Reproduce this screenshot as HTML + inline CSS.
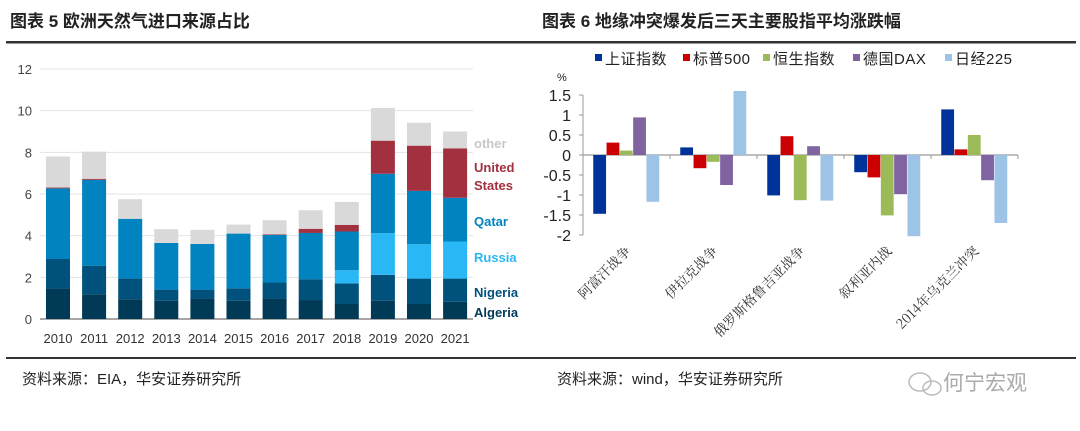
<!DOCTYPE html>
<html><head><meta charset="utf-8">
<style>
body{margin:0;background:#fff;}
#wrap{position:relative;width:1080px;height:431px;overflow:hidden;font-family:"Liberation Sans","Noto Sans CJK SC",sans-serif;}
svg{position:absolute;left:0;top:0;}
</style></head>
<body>
<div id="wrap">
<svg id="svg" width="1080" height="431" viewBox="0 0 1080 431">
  <text x="10" y="27" font-size="17" font-weight="bold" fill="#222" font-family="'Liberation Sans','Noto Sans CJK SC',sans-serif">图表 5 欧洲天然气进口来源占比</text>
  <text x="542" y="27" font-size="17" font-weight="bold" fill="#222" font-family="'Liberation Sans','Noto Sans CJK SC',sans-serif">图表 6 地缘冲突爆发后三天主要股指平均涨跌幅</text>
  <rect x="6" y="41" width="1070" height="2.5" fill="#333"/>
  <rect x="6" y="357" width="1070" height="2" fill="#333"/>
  <text x="22" y="384" font-size="15" fill="#222" font-family="'Liberation Sans','Noto Sans CJK SC',sans-serif">资料来源：EIA，华安证券研究所</text>
  <text x="557" y="384" font-size="15" fill="#222" font-family="'Liberation Sans','Noto Sans CJK SC',sans-serif">资料来源：wind，华安证券研究所</text>
  <g>
    <ellipse cx="920" cy="382" rx="11" ry="9" fill="none" stroke="#bbb" stroke-width="1.5"/>
    <ellipse cx="932" cy="388" rx="9" ry="7" fill="none" stroke="#bbb" stroke-width="1.5"/>
    <text x="943" y="390" font-size="21" fill="#aaa" font-family="'Noto Sans CJK SC',sans-serif">何宁宏观</text>
  </g>
  <g id="left"></g>
  <g id="right"></g>
</svg>
</div>
<script>
// ---- Left chart data ----
const years = ["2010","2011","2012","2013","2014","2015","2016","2017","2018","2019","2020","2021"];
const algeria = [1.46,1.19,0.95,0.88,0.98,0.88,0.98,0.91,0.72,0.88,0.72,0.83];
const nigeria = [1.42,1.37,0.99,0.53,0.43,0.59,0.77,1.00,0.99,1.24,1.22,1.11];
const russia  = [0,0,0,0,0,0,0,0,0.63,2.00,1.65,1.78];
const qatar   = [3.39,4.12,2.87,2.24,2.19,2.63,2.29,2.22,1.86,2.85,2.56,2.10];
const usa     = [0.04,0.05,0,0,0,0,0.03,0.20,0.32,1.59,2.17,2.37];
const other   = [1.49,1.30,0.94,0.66,0.68,0.43,0.67,0.89,1.10,1.57,1.10,0.81];
const leftTicks = [0,2,4,6,8,10,12];
const seriesNames = ["Algeria","Nigeria","Russia","Qatar","United States","other"];

// ---- Right chart data ----
const events = ["阿富汗战争","伊拉克战争","俄罗斯格鲁吉亚战争","叙利亚内战","2014年乌克兰冲突"];
const shIndex = [-1.47,0.19,-1.01,-0.43,1.14];
const sp500   = [0.31,-0.33,0.47,-0.56,0.14];
const hsIndex = [0.11,-0.17,-1.13,-1.51,0.50];
const dax     = [0.94,-0.75,0.22,-0.98,-0.63];
const nikkei  = [-1.17,1.60,-1.14,-2.03,-1.70];
const rightTicks = [1.5,1,0.5,0,-0.5,-1,-1.5,-2];
const rightTickLabels = ["1.5","1","0.5","0","-0.5","-1","-1.5","-2"];
const indexNames = ["上证指数","标普500","恒生指数","德国DAX","日经225"];

const NS="http://www.w3.org/2000/svg";
function mk(tag,attrs,parent){const e=document.createElementNS(NS,tag);for(const k in attrs)e.setAttribute(k,attrs[k]);parent.appendChild(e);return e;}

// Left chart
(function(){
  const g=document.getElementById('left');
  const y0=319, y1=69, vmax=12;
  const ly=v=>y0-(v/vmax)*(y0-y1);
  const x0=40, step=36.1, first=58, bw=24;
  const lx=i=>first+i*step;
  leftTicks.forEach(t=>{
    const gl=mk('line',{x1:x0,x2:473,y1:ly(t),y2:ly(t),stroke:t===0?'#888':'#e3e3e3','stroke-width':t===0?1.5:1},g);
    
    
    const tl=mk('text',{x:32,y:ly(t)+5,'text-anchor':'end','font-size':13,fill:'#444'},g);
    tl.textContent=t;
    
    
  });
  const series=[algeria,nigeria,russia,qatar,usa,other];
  const colors=['#003a57','#00527d','#29b8f5','#0083bf','#a3303f','#d9d9d9'];
  years.forEach((yr,i)=>{
    let acc=0;
    series.forEach((s,k)=>{
      const v=s[i]; if(v<=0) return;
      const r=mk('rect',{x:lx(i)-bw/2,y:ly(acc+v),width:bw,height:ly(acc)-ly(acc+v),fill:colors[k]},g);
      
      
      acc+=v;
    });
    const t=mk('text',{x:lx(i),y:343,'text-anchor':'middle','font-size':13,fill:'#333'},g);
    t.textContent=yr;
    
    
  });
  const labs=[["other",148,'#c8c8c8'],["United",172,'#a3303f'],["States",190,'#a3303f'],["Qatar",226,'#0083bf'],["Russia",262,'#29b8f5'],["Nigeria",297,'#00527d'],["Algeria",317,'#003a57']];
  labs.forEach(l=>{
    const t=mk('text',{x:474,y:l[1],'font-size':13,'font-weight':'bold',fill:l[2],'font-family':"'Liberation Sans Narrow','Liberation Sans',sans-serif"},g);
    t.textContent=l[0];
    
    
  });
})();

// Right chart
(function(){
  const g=document.getElementById('right');
  const zero=155, unit=40;
  const ry=v=>zero-v*unit;
  const ax=583, xr=1018, gw=(xr-ax)/5, bw=13.3;
  const colors=['#003399','#cc0000','#9bbb59','#8064a2','#9dc3e6'];
  mk('line',{x1:ax,x2:ax,y1:ry(1.5),y2:ry(-2),stroke:'#999','stroke-width':1},g);
  rightTicks.forEach((t,i)=>{
    mk('line',{x1:ax-4,x2:ax,y1:ry(t),y2:ry(t),stroke:'#999'},g);
    const tl=mk('text',{x:571,y:ry(t)+6,'text-anchor':'end','font-size':16,fill:'#222'},g);
    tl.textContent=rightTickLabels[i];
    
    
  });
  const pct=mk('text',{x:557,y:81,'font-size':11,fill:'#222'},g); pct.textContent='%';
  
  
  mk('line',{x1:ax,x2:xr,y1:zero,y2:zero,stroke:'#999','stroke-width':1.2},g);
  for(let i=0;i<=5;i++) mk('line',{x1:ax+i*gw,x2:ax+i*gw,y1:zero,y2:zero+4,stroke:'#999'},g);
  const series=[shIndex,sp500,hsIndex,dax,nikkei];
  events.forEach((ev,i)=>{
    const c=ax+gw*(i+0.5);
    series.forEach((s,k)=>{
      const v=s[i];
      const x=c-2.5*bw+k*bw;
      const r=mk('rect',{x:x,y:Math.min(ry(v),zero),width:bw-0.5,height:Math.abs(ry(v)-zero),fill:colors[k]},g);
      
      
    });
    const t=mk('text',{x:c+5,y:252,'text-anchor':'end','font-size':13.5,fill:'#333','font-family':"'Noto Serif CJK SC',serif",transform:`rotate(-45 ${c+5} 252)`},g);
    t.textContent=ev;
    
    
  });
  const lx=[595,683,763,853,945];
  indexNames.forEach((n,k)=>{
    const lg=mk('g',{},g);
    
    
    mk('rect',{x:lx[k],y:54,width:7,height:7,fill:colors[k]},lg);
    const t=mk('text',{x:lx[k]+10,y:64,'font-size':15,fill:'#222','letter-spacing':'0.5'},lg);
    t.textContent=n;
  });
})();
</script>
</body></html>
